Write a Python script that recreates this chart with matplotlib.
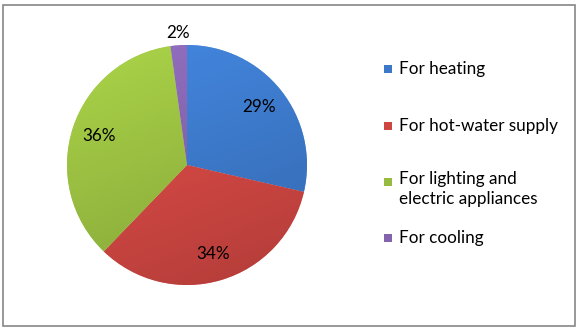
import matplotlib
matplotlib.use("Agg")
import matplotlib.pyplot as plt
import numpy as np
from matplotlib.patches import Rectangle
from matplotlib.colors import to_rgb

categories = ["For heating", "For hot-water supply",
              "For lighting and\nelectric appliances", "For cooling"]
values = [28.6, 33.6, 35.6, 2.2]
colors = ["#3C78C8", "#CE4642", "#97BB40", "#8363AB"]

plt.rcParams['font.family'] = ['Lato', 'DejaVu Sans']

W, H = 578, 331
fig = plt.figure(figsize=(W / 100, H / 100), dpi=100)

# figure border
fig.patches.append(Rectangle((3 / W, 5 / H), 572 / W, 321 / H,
                             transform=fig.transFigure, fill=False,
                             edgecolor="#868686", linewidth=1.2))

cx, cy, half = 187, 331 - 165, 138
ax = fig.add_axes([(cx - half) / W, (cy - half) / H, 2 * half / W, 2 * half / H])
ax.set_aspect('equal')
ax.axis('off')

wedges, _ = ax.pie(values, colors=colors, startangle=90, counterclock=False,
                   radius=1.0, center=(0, 0),
                   wedgeprops=dict(edgecolor=(1, 1, 1, 0.35), linewidth=0.8))

# shading gradient per wedge
yy, xx = np.mgrid[1:-1:200j, -1:1:200j]
shade = 0.5 * (xx * -0.35 + yy * 0.9)  # lighter top-left
for w, c in zip(wedges, colors):
    base = np.array(to_rgb(c))
    img = np.clip(base[None, None, :] * (1 + 0.22 * shade[..., None]), 0, 1)
    im = ax.imshow(img, extent=(-1, 1, -1, 1), zorder=w.get_zorder() + 0.1,
                   interpolation='bilinear')
    im.set_clip_path(w)
ax.set_xlim(-1.15, 1.15)
ax.set_ylim(-1.15, 1.15)

total = sum(values)
for w, v in zip(wedges, values):
    ang = np.deg2rad(0.5 * (w.theta1 + w.theta2))
    frac = v / total
    r = 0.77 if frac > 0.05 else 1.1
    ax.text(r * np.cos(ang), r * np.sin(ang), f"{round(v):d}%",
            ha='center', va='center', fontsize=12.3, color='black', zorder=10)

# legend
rows_y = [69, 126, 182, 238]
for lab, c, ry in zip(categories, colors, rows_y):
    s = 8
    fig.patches.append(Rectangle(((388 - s / 2) / W, (H - ry - s / 2) / H), s / W, s / H,
                                 transform=fig.transFigure, facecolor=c,
                                 linewidth=0))
    if '\n' in lab:
        fig.text(399 / W, (H - ry + 11) / H, lab, ha='left', va='top',
                 fontsize=12.3, color='black', linespacing=1.3)
    else:
        fig.text(399 / W, (H - ry) / H, lab, ha='left', va='center',
                 fontsize=12.3, color='black')

fig.savefig("out.png", dpi=100)
